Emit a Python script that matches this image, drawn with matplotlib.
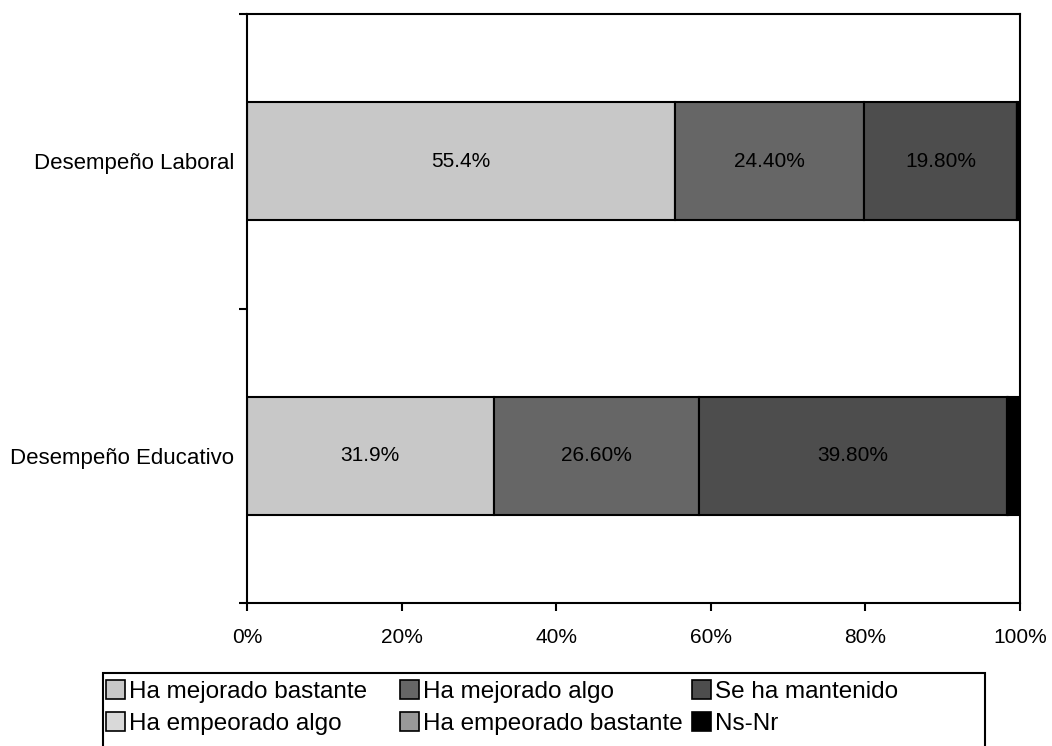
import matplotlib
matplotlib.use("Agg")
import matplotlib.pyplot as plt
import numpy as np
from matplotlib.patches import Patch, Rectangle
from matplotlib.ticker import FixedLocator

plt.rcParams['font.family'] = ['Liberation Sans', 'DejaVu Sans']

categories = ["Desempeño Educativo", "Desempeño Laboral"]
series_names = ["Ha mejorado bastante", "Ha mejorado algo", "Se ha mantenido",
                "Ha empeorado algo", "Ha empeorado bastante", "Ns-Nr"]
values = {
    "Ha mejorado bastante": [31.9, 55.4],
    "Ha mejorado algo": [26.6, 24.4],
    "Se ha mantenido": [39.8, 19.8],
    "Ha empeorado algo": [0.2, 0.0],
    "Ha empeorado bastante": [0.0, 0.0],
    "Ns-Nr": [1.5, 0.4],
}
bar_labels = {
    "Ha mejorado bastante": ["31.9%", "55.4%"],
    "Ha mejorado algo": ["26.60%", "24.40%"],
    "Se ha mantenido": ["39.80%", "19.80%"],
}
colors = ["#C8C8C8", "#666666", "#4D4D4D", "#D9D9D9", "#999999", "#000000"]
xticks = [0, 20, 40, 60, 80, 100]
xticklabels = ["0%", "20%", "40%", "60%", "80%", "100%"]

W, H = 1052, 746
fig = plt.figure(figsize=(W/100, H/100), dpi=100)
ax = fig.add_axes([247/W, 1-603/H, (1020-247)/W, (603-14)/H])

y = np.arange(len(categories))
left = np.zeros(len(categories))
for name, col in zip(series_names, colors):
    v = np.array(values[name])
    ax.barh(y, v, left=left, height=0.4, color=col, edgecolor="black", linewidth=1.5)
    if name in bar_labels:
        for yi, (vi, li, lab) in enumerate(zip(v, left, bar_labels[name])):
            ax.text(li + vi/2, yi, lab, ha="center", va="center", fontsize=15, color="black")
    left = left + v

ax.set_xlim(0, 100)
ax.set_ylim(-0.5, 1.5)
ax.set_xticks(xticks)
ax.set_xticklabels(xticklabels, fontsize=15)
ax.set_yticks(y)
ax.set_yticklabels(categories, fontsize=16)
ax.yaxis.set_minor_locator(FixedLocator([-0.5, 0.5, 1.5]))
ax.tick_params(axis="y", which="major", length=0, pad=9)
ax.tick_params(axis="y", which="minor", length=6, width=1.5, direction="out")
ax.tick_params(axis="x", which="major", length=6, width=1.5, direction="out", pad=12)
for s in ax.spines.values():
    s.set_linewidth(1.5)

# legend: three equal-width columns inside one frame
handles = [Patch(facecolor=c, edgecolor="black", linewidth=1.2) for c in colors]
col_x = [106, 400, 692]
for ci in range(3):
    idx = [ci, ci + 3]
    leg = fig.legend([handles[i] for i in idx], [series_names[i] for i in idx],
                     loc="upper left", bbox_to_anchor=(col_x[ci]/W, 1-680/H),
                     ncol=1, fontsize=17.5, frameon=False,
                     handlelength=0.8, handleheight=0.8,
                     handletextpad=0.15, labelspacing=0.38,
                     borderpad=0, borderaxespad=0)
fig.patches.append(Rectangle((103/W, -0.05), (985-103)/W, 0.05 + (H-673)/H,
                             transform=fig.transFigure, fill=False,
                             edgecolor="black", linewidth=1.5))

fig.savefig("out.png", dpi=100)
